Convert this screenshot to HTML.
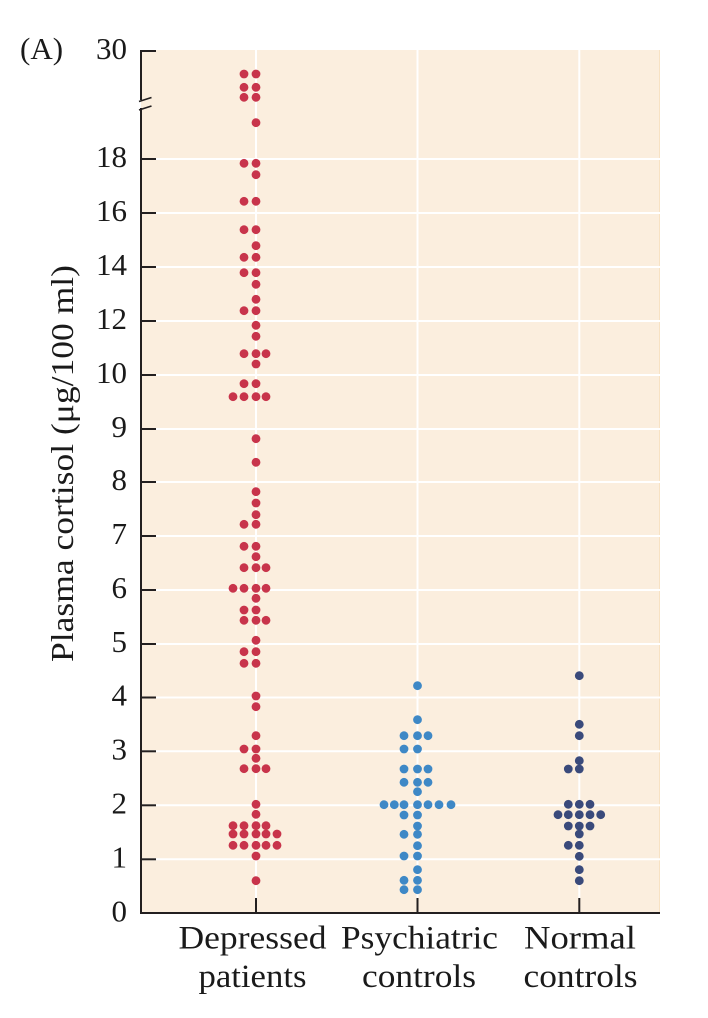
<!DOCTYPE html>
<html>
<head>
<meta charset="utf-8">
<style>
html,body{margin:0;padding:0;background:#ffffff;}
svg{display:block;}
text{font-family:"Liberation Serif","DejaVu Serif",serif;fill:#1a1a1a;}
</style>
</head>
<body>
<svg width="708" height="1018" viewBox="0 0 708 1018" xmlns="http://www.w3.org/2000/svg">
  <!-- plot background -->
  <rect x="141" y="50" width="519" height="863" fill="#FBEEDE"/>
  <line x1="659.5" y1="50" x2="659.5" y2="913" stroke="#F7E2C4" stroke-width="1"/>

  <!-- horizontal gridlines -->
  <g stroke="#ffffff" stroke-width="2">
    <line x1="141" y1="159" x2="660" y2="159"/>
    <line x1="141" y1="213" x2="660" y2="213"/>
    <line x1="141" y1="267" x2="660" y2="267"/>
    <line x1="141" y1="321" x2="660" y2="321"/>
    <line x1="141" y1="375" x2="660" y2="375"/>
    <line x1="141" y1="429" x2="660" y2="429"/>
    <line x1="141" y1="482" x2="660" y2="482"/>
    <line x1="141" y1="536" x2="660" y2="536"/>
    <line x1="141" y1="590" x2="660" y2="590"/>
    <line x1="141" y1="644" x2="660" y2="644"/>
    <line x1="141" y1="697.5" x2="660" y2="697.5"/>
    <line x1="141" y1="751.3" x2="660" y2="751.3"/>
    <line x1="141" y1="805.3" x2="660" y2="805.3"/>
    <line x1="141" y1="859.3" x2="660" y2="859.3"/>
    <!-- vertical -->
    <line x1="256" y1="50" x2="256" y2="898"/>
    <line x1="417.5" y1="50" x2="417.5" y2="898"/>
    <line x1="579.3" y1="50" x2="579.3" y2="898"/>
  </g>

  <!-- axes -->
  <g stroke="#231F20" stroke-width="2" fill="none">
    <line x1="141" y1="50" x2="141" y2="100"/>
    <line x1="141" y1="108" x2="141" y2="914"/>
    <line x1="140" y1="913" x2="660" y2="913"/>
    <!-- break marks -->
    <line x1="139" y1="101.5" x2="151.5" y2="97.5" stroke-width="1.6"/>
    <line x1="139" y1="110" x2="151.5" y2="106" stroke-width="1.6"/>
    <!-- y ticks -->
    <line x1="141" y1="51" x2="156" y2="51"/>
    <line x1="141" y1="159" x2="156" y2="159"/>
    <line x1="141" y1="213" x2="156" y2="213"/>
    <line x1="141" y1="267" x2="156" y2="267"/>
    <line x1="141" y1="321" x2="156" y2="321"/>
    <line x1="141" y1="375" x2="156" y2="375"/>
    <line x1="141" y1="429" x2="156" y2="429"/>
    <line x1="141" y1="482" x2="156" y2="482"/>
    <line x1="141" y1="536" x2="156" y2="536"/>
    <line x1="141" y1="590" x2="156" y2="590"/>
    <line x1="141" y1="644" x2="156" y2="644"/>
    <line x1="141" y1="697.5" x2="156" y2="697.5"/>
    <line x1="141" y1="751.3" x2="156" y2="751.3"/>
    <line x1="141" y1="805.3" x2="156" y2="805.3"/>
    <line x1="141" y1="859.3" x2="156" y2="859.3"/>
    <!-- x ticks -->
    <line x1="256" y1="898" x2="256" y2="913"/>
    <line x1="417.5" y1="898" x2="417.5" y2="913"/>
    <line x1="579.3" y1="898" x2="579.3" y2="913"/>
  </g>

  <!-- tick labels -->
  <g font-size="31" text-anchor="end">
    <text x="127" y="59">30</text>
    <text x="127" y="167">18</text>
    <text x="127" y="221">16</text>
    <text x="127" y="275">14</text>
    <text x="127" y="329">12</text>
    <text x="127" y="383">10</text>
    <text x="127" y="437">9</text>
    <text x="127" y="490">8</text>
    <text x="127" y="544">7</text>
    <text x="127" y="598">6</text>
    <text x="127" y="652">5</text>
    <text x="127" y="705.5">4</text>
    <text x="127" y="759.3">3</text>
    <text x="127" y="813.3">2</text>
    <text x="127" y="867.3">1</text>
    <text x="127" y="921.5">0</text>
  </g>

  <text x="20" y="59" font-size="31">(A)</text>

  <!-- y axis label -->
  <text x="73" y="463.5" font-size="32" text-anchor="middle" transform="rotate(-90 73 463.5)" textLength="397" lengthAdjust="spacingAndGlyphs">Plasma cortisol (μg/100 ml)</text>

  <!-- x labels -->
  <g font-size="33" text-anchor="middle">
    <text x="252.5" y="948.5" textLength="148" lengthAdjust="spacingAndGlyphs">Depressed</text>
    <text x="252.5" y="987" textLength="108" lengthAdjust="spacingAndGlyphs">patients</text>
    <text x="419.5" y="948.5" textLength="157" lengthAdjust="spacingAndGlyphs">Psychiatric</text>
    <text x="419" y="987" textLength="114" lengthAdjust="spacingAndGlyphs">controls</text>
    <text x="580" y="948.5" textLength="112" lengthAdjust="spacingAndGlyphs">Normal</text>
    <text x="580.5" y="987" textLength="114" lengthAdjust="spacingAndGlyphs">controls</text>
  </g>

  <!-- Depressed patients: L2=233 L1=244 C=256 R1=266 R2=277 -->
  <g fill="#C8344B">
    <circle cx="244" cy="74" r="4.4"/><circle cx="256" cy="74" r="4.4"/>
    <circle cx="244" cy="87.3" r="4.4"/><circle cx="256" cy="87.3" r="4.4"/>
    <circle cx="244" cy="97.3" r="4.4"/><circle cx="256" cy="97.3" r="4.4"/>
    <circle cx="256" cy="122.7" r="4.4"/>
    <circle cx="244" cy="163.3" r="4.4"/><circle cx="256" cy="163.3" r="4.4"/>
    <circle cx="256" cy="174.7" r="4.4"/>
    <circle cx="244" cy="201.3" r="4.4"/><circle cx="256" cy="201.3" r="4.4"/>
    <circle cx="244" cy="229.7" r="4.4"/><circle cx="256" cy="229.7" r="4.4"/>
    <circle cx="256" cy="245.7" r="4.4"/>
    <circle cx="244" cy="257.3" r="4.4"/><circle cx="256" cy="257.3" r="4.4"/>
    <circle cx="244" cy="272.7" r="4.4"/><circle cx="256" cy="272.7" r="4.4"/>
    <circle cx="256" cy="284.3" r="4.4"/>
    <circle cx="256" cy="299.3" r="4.4"/>
    <circle cx="244" cy="310.7" r="4.4"/><circle cx="256" cy="310.7" r="4.4"/>
    <circle cx="256" cy="325.3" r="4.4"/>
    <circle cx="256" cy="336.3" r="4.4"/>
    <circle cx="244" cy="353.7" r="4.4"/><circle cx="256" cy="353.7" r="4.4"/><circle cx="266" cy="353.7" r="4.4"/>
    <circle cx="256" cy="364" r="4.4"/>
    <circle cx="244" cy="383.7" r="4.4"/><circle cx="256" cy="383.7" r="4.4"/>
    <circle cx="233" cy="396.7" r="4.4"/><circle cx="244" cy="396.7" r="4.4"/><circle cx="256" cy="396.7" r="4.4"/><circle cx="266" cy="396.7" r="4.4"/>
    <circle cx="256" cy="438.7" r="4.4"/>
    <circle cx="256" cy="462.3" r="4.4"/>
    <circle cx="256" cy="491.7" r="4.4"/>
    <circle cx="256" cy="503" r="4.4"/>
    <circle cx="256" cy="514.7" r="4.4"/>
    <circle cx="244" cy="524.3" r="4.4"/><circle cx="256" cy="524.3" r="4.4"/>
    <circle cx="244" cy="546.3" r="4.4"/><circle cx="256" cy="546.3" r="4.4"/>
    <circle cx="256" cy="556.7" r="4.4"/>
    <circle cx="244" cy="567.7" r="4.4"/><circle cx="256" cy="567.7" r="4.4"/><circle cx="266" cy="567.7" r="4.4"/>
    <circle cx="233" cy="588.3" r="4.4"/><circle cx="244" cy="588.3" r="4.4"/><circle cx="256" cy="588.3" r="4.4"/><circle cx="266" cy="588.3" r="4.4"/>
    <circle cx="256" cy="598.3" r="4.4"/>
    <circle cx="244" cy="610" r="4.4"/><circle cx="256" cy="610" r="4.4"/>
    <circle cx="244" cy="620.3" r="4.4"/><circle cx="256" cy="620.3" r="4.4"/><circle cx="266" cy="620.3" r="4.4"/>
    <circle cx="256" cy="640.3" r="4.4"/>
    <circle cx="244" cy="651.7" r="4.4"/><circle cx="256" cy="651.7" r="4.4"/>
    <circle cx="244" cy="663.3" r="4.4"/><circle cx="256" cy="663.3" r="4.4"/>
    <circle cx="256" cy="696" r="4.4"/>
    <circle cx="256" cy="706.7" r="4.4"/>
    <circle cx="256" cy="735.7" r="4.4"/>
    <circle cx="244" cy="749" r="4.4"/><circle cx="256" cy="749" r="4.4"/>
    <circle cx="256" cy="758.3" r="4.4"/>
    <circle cx="244" cy="768.7" r="4.4"/><circle cx="256" cy="768.7" r="4.4"/><circle cx="266" cy="768.7" r="4.4"/>
    <circle cx="256" cy="804.3" r="4.4"/>
    <circle cx="256" cy="814.3" r="4.4"/>
    <circle cx="233" cy="825.7" r="4.4"/><circle cx="244" cy="825.7" r="4.4"/><circle cx="256" cy="825.7" r="4.4"/><circle cx="266" cy="825.7" r="4.4"/>
    <circle cx="233" cy="834" r="4.4"/><circle cx="244" cy="834" r="4.4"/><circle cx="256" cy="834" r="4.4"/><circle cx="266" cy="834" r="4.4"/><circle cx="277" cy="834" r="4.4"/>
    <circle cx="233" cy="845.3" r="4.4"/><circle cx="244" cy="845.3" r="4.4"/><circle cx="256" cy="845.3" r="4.4"/><circle cx="266" cy="845.3" r="4.4"/><circle cx="277" cy="845.3" r="4.4"/>
    <circle cx="256" cy="856" r="4.4"/>
    <circle cx="256" cy="880.7" r="4.4"/>
  </g>

  <!-- Psychiatric controls: C=417.5 L1=404 R1=428 L2=394 R2=439 L3=384 R3=451 -->
  <g fill="#3E88C6">
    <circle cx="417.5" cy="685.7" r="4.4"/>
    <circle cx="417.5" cy="719.7" r="4.4"/>
    <circle cx="404" cy="735.7" r="4.4"/><circle cx="417.5" cy="735.7" r="4.4"/><circle cx="428" cy="735.7" r="4.4"/>
    <circle cx="404" cy="749" r="4.4"/><circle cx="417.5" cy="749" r="4.4"/>
    <circle cx="404" cy="769" r="4.4"/><circle cx="417.5" cy="769" r="4.4"/><circle cx="428" cy="769" r="4.4"/>
    <circle cx="404" cy="782.3" r="4.4"/><circle cx="417.5" cy="782.3" r="4.4"/><circle cx="428" cy="782.3" r="4.4"/>
    <circle cx="417.5" cy="791.7" r="4.4"/>
    <circle cx="384" cy="804.7" r="4.4"/><circle cx="394.3" cy="804.7" r="4.4"/><circle cx="404" cy="804.7" r="4.4"/><circle cx="417.5" cy="804.7" r="4.4"/><circle cx="428" cy="804.7" r="4.4"/><circle cx="439" cy="804.7" r="4.4"/><circle cx="451" cy="804.7" r="4.4"/>
    <circle cx="404" cy="815" r="4.4"/><circle cx="417.5" cy="815" r="4.4"/>
    <circle cx="417.5" cy="826" r="4.4"/>
    <circle cx="404" cy="834.3" r="4.4"/><circle cx="417.5" cy="834.3" r="4.4"/>
    <circle cx="417.5" cy="845.7" r="4.4"/>
    <circle cx="404" cy="856" r="4.4"/><circle cx="417.5" cy="856" r="4.4"/>
    <circle cx="417.5" cy="869.7" r="4.4"/>
    <circle cx="404" cy="880.3" r="4.4"/><circle cx="417.5" cy="880.3" r="4.4"/>
    <circle cx="404" cy="889.7" r="4.4"/><circle cx="417.5" cy="889.7" r="4.4"/>
  </g>

  <!-- Normal controls: C=579.3 L1=568.3 R1=590 L2=558 R2=600.7 -->
  <g fill="#3A4A7B">
    <circle cx="579.3" cy="675.7" r="4.4"/>
    <circle cx="579.3" cy="724.3" r="4.4"/>
    <circle cx="579.3" cy="735.7" r="4.4"/>
    <circle cx="579.3" cy="760.7" r="4.4"/>
    <circle cx="568.3" cy="769" r="4.4"/><circle cx="579.3" cy="769" r="4.4"/>
    <circle cx="568.3" cy="804.3" r="4.4"/><circle cx="579.3" cy="804.3" r="4.4"/><circle cx="590" cy="804.3" r="4.4"/>
    <circle cx="558" cy="814.7" r="4.4"/><circle cx="568.3" cy="814.7" r="4.4"/><circle cx="579.3" cy="814.7" r="4.4"/><circle cx="590" cy="814.7" r="4.4"/><circle cx="600.7" cy="814.7" r="4.4"/>
    <circle cx="568.3" cy="826" r="4.4"/><circle cx="579.3" cy="826" r="4.4"/><circle cx="590" cy="826" r="4.4"/>
    <circle cx="579.3" cy="834" r="4.4"/>
    <circle cx="568.3" cy="845.3" r="4.4"/><circle cx="579.3" cy="845.3" r="4.4"/>
    <circle cx="579.3" cy="856.3" r="4.4"/>
    <circle cx="579.3" cy="869.7" r="4.4"/>
    <circle cx="579.3" cy="880.7" r="4.4"/>
  </g>
</svg>
</body>
</html>
